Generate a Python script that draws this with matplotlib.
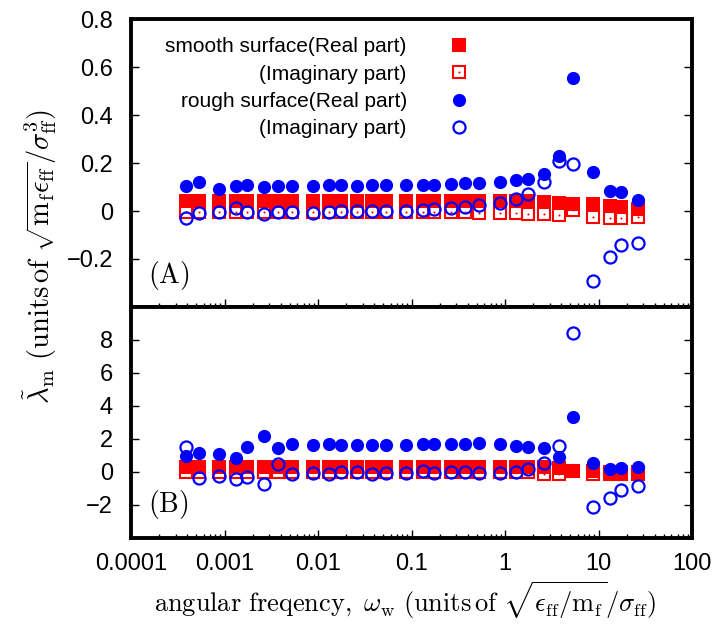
import matplotlib
matplotlib.use('Agg')
import matplotlib.pyplot as plt
from matplotlib.ticker import LogLocator, NullFormatter

plt.rcParams['font.family'] = ['Liberation Sans', 'DejaVu Sans']
plt.rcParams['mathtext.fontset'] = 'cm'

# angular frequency of the wall (same grid for every series)
omega = [3.9e-4, 5.3e-4, 8.8e-4, 1.32e-3, 1.76e-3, 2.64e-3, 3.75e-3, 5.3e-3,
         8.8e-3, 1.32e-2, 1.76e-2, 2.64e-2, 3.75e-2, 5.3e-2, 8.8e-2, 0.132,
         0.176, 0.264, 0.375, 0.53, 0.88, 1.32, 1.76, 2.64, 3.75, 5.3, 8.8,
         13.2, 17.6, 26.4]

# panel (A)
smooth_re_a = [0.043, 0.043, 0.043, 0.043, 0.043, 0.043, 0.043, 0.043, 0.043, 0.043,
               0.043, 0.043, 0.043, 0.043, 0.043, 0.043, 0.043, 0.042, 0.042, 0.042,
               0.042, 0.042, 0.042, 0.038, 0.035, 0.031, 0.028, 0.022, 0.018, 0.008]
smooth_im_a = [-0.006, -0.006, -0.006, -0.006, -0.006, -0.006, -0.006, -0.006, -0.006, -0.006,
               -0.006, -0.006, -0.006, -0.006, -0.006, -0.006, -0.006, -0.005, -0.006, -0.009,
               -0.01, -0.01, -0.011, -0.013, -0.017, 0.006, -0.025, -0.029, -0.029, -0.026]
rough_re_a = [0.106, 0.12, 0.09, 0.103, 0.109, 0.099, 0.103, 0.103, 0.106, 0.107,
              0.107, 0.106, 0.107, 0.107, 0.109, 0.11, 0.11, 0.113, 0.115, 0.117,
              0.12, 0.128, 0.132, 0.156, 0.228, 0.556, 0.163, 0.083, 0.08, 0.047]
rough_im_a = [-0.028, -0.007, -0.004, 0.014, -0.004, -0.011, -0.003, -0.003, -0.007, -0.003,
              0.0, 0.0, 0.0, 0.0, 0.0, 0.003, 0.007, 0.011, 0.017, 0.023,
              0.034, 0.052, 0.072, 0.121, 0.21, 0.197, -0.29, -0.19, -0.141, -0.132]

# panel (B)
smooth_re_b = [0.3, 0.3, 0.3, 0.3, 0.3, 0.3, 0.3, 0.3, 0.3, 0.3,
               0.3, 0.3, 0.3, 0.3, 0.3, 0.3, 0.3, 0.3, 0.3, 0.3,
               0.3, 0.3, 0.3, 0.3, 0.25, 0.08, 0.05, 0.02, 0.02, 0.02]
smooth_im_b = [-0.02, -0.02, -0.02, -0.02, -0.02, -0.02, -0.02, -0.02, -0.02, -0.02,
               -0.02, -0.02, -0.02, -0.02, -0.02, -0.02, -0.02, -0.02, -0.02, -0.02,
               -0.02, -0.02, -0.02, -0.11, -0.11, 0.05, -0.1, -0.12, -0.12, -0.12]
rough_re_b = [0.98, 1.14, 1.12, 0.87, 1.49, 2.2, 1.45, 1.69, 1.65, 1.69,
              1.63, 1.65, 1.65, 1.63, 1.65, 1.69, 1.69, 1.69, 1.69, 1.73,
              1.69, 1.59, 1.53, 1.45, 0.92, 3.32, 0.57, 0.16, 0.22, 0.3]
rough_im_b = [1.53, -0.39, -0.24, -0.45, -0.29, -0.71, 0.47, -0.1, -0.04, -0.1,
              0.0, 0.0, -0.1, -0.04, -0.04, 0.06, -0.04, 0.0, 0.0, -0.04,
              -0.04, 0.0, 0.16, 0.57, 1.55, 8.42, -2.12, -1.57, -1.1, -0.86]

x_ticks = [1e-4, 1e-3, 1e-2, 1e-1, 1, 10, 100]
x_ticklabels = ['0.0001', '0.001', '0.01', '0.1', '1', '10', '100']
a_ticks = [-0.2, 0, 0.2, 0.4, 0.6, 0.8]
a_ticklabels = ['\u22120.2', '0', '0.2', '0.4', '0.6', '0.8']
b_ticks = [-2, 0, 2, 4, 6, 8]
b_ticklabels = ['\u22122', '0', '2', '4', '6', '8']

fig = plt.figure(figsize=(7.27, 6.26), dpi=100)
ax_a = fig.add_axes([0.1802, 0.5096, 0.7717, 0.4600])
ax_b = fig.add_axes([0.1802, 0.1406, 0.7717, 0.3690])

MS = 9.5


def draw(ax, sm_re, sm_im, ro_re, ro_im):
    # open squares first, filled squares drawn over them (gives the white bars)
    h_sim, = ax.plot(omega, sm_im, ls='none', marker='s', ms=MS - 0.6, mfc='none',
                     mec='red', mew=1.5, zorder=2)
    h_dot, = ax.plot(omega, sm_im, ls='none', marker='o', ms=1.5, mfc='red',
                     mec='red', mew=0, zorder=2)
    h_sre, = ax.plot(omega, sm_re, ls='none', marker='s', ms=MS, mfc='red',
                     mec='red', mew=0, zorder=3)
    h_rre, = ax.plot(omega, ro_re, ls='none', marker='o', ms=MS, mfc='blue',
                     mec='blue', mew=0, zorder=4)
    h_rim, = ax.plot(omega, ro_im, ls='none', marker='o', ms=MS - 0.8, mfc='none',
                     mec='blue', mew=1.6, zorder=5)
    return h_sre, (h_sim, h_dot), h_rre, h_rim


handles = draw(ax_a, smooth_re_a, smooth_im_a, rough_re_a, rough_im_a)
draw(ax_b, smooth_re_b, smooth_im_b, rough_re_b, rough_im_b)

for ax in (ax_a, ax_b):
    ax.set_xscale('log')
    ax.set_xlim(1e-4, 100)
    ax.set_xticks(x_ticks)
    ax.xaxis.set_minor_locator(LogLocator(base=10, subs=range(2, 10), numticks=20))
    ax.xaxis.set_minor_formatter(NullFormatter())
    ax.tick_params(which='both', direction='in', top=False, right=True, width=1,
                   labelsize=17)
    ax.tick_params(which='major', length=5.5)
    ax.tick_params(which='minor', length=3)
    for s in ax.spines.values():
        s.set_linewidth(2.8)

ax_a.set_ylim(-0.4, 0.8)
ax_a.set_yticks(a_ticks)
ax_a.set_yticklabels(a_ticklabels)
ax_a.set_xticklabels([])
ax_a.tick_params(axis='y', pad=13)

ax_b.set_ylim(-4, 10)
ax_b.set_yticks(b_ticks)
ax_b.set_yticklabels(b_ticklabels)
ax_b.set_xticklabels(x_ticklabels)
ax_b.tick_params(axis='y', pad=13)
ax_b.tick_params(axis='x', pad=11)

ax_a.text(0.03, 0.108, r'$(\mathrm{A})$', transform=ax_a.transAxes, fontsize=20,
          va='center', ha='left')
ax_b.text(0.03, 0.147, r'$(\mathrm{B})$', transform=ax_b.transAxes, fontsize=20,
          va='center', ha='left')

ax_a.legend(handles, ['smooth surface(Real part)', '(Imaginary part)',
                      'rough surface(Real part)', '(Imaginary part)'],
            loc='upper right', bbox_to_anchor=(0.603, 0.937), markerfirst=False,
            frameon=False, fontsize=15, handlelength=1.0, handletextpad=2.0,
            labelspacing=0.4, borderpad=0, borderaxespad=0)

fig.text(0.557, 0.041,
         r'$\mathrm{angular\ freqency,}\ \omega_\mathrm{w}\ (\mathrm{units\,of}\ '
         r'\sqrt{\epsilon_\mathrm{ff}/\mathrm{m}_\mathrm{f}}/\sigma_\mathrm{ff})$',
         ha='center', va='center', fontsize=19)
fig.text(0.055, 0.59,
         r'$\tilde{\lambda}_\mathrm{m}\ (\mathrm{units\,of}\ '
         r'\sqrt{\mathrm{m}_\mathrm{f}\epsilon_\mathrm{ff}}/\sigma_\mathrm{ff}^{3})$',
         ha='center', va='center', rotation=90, fontsize=20.5)

fig.savefig('out.png', dpi=100)
